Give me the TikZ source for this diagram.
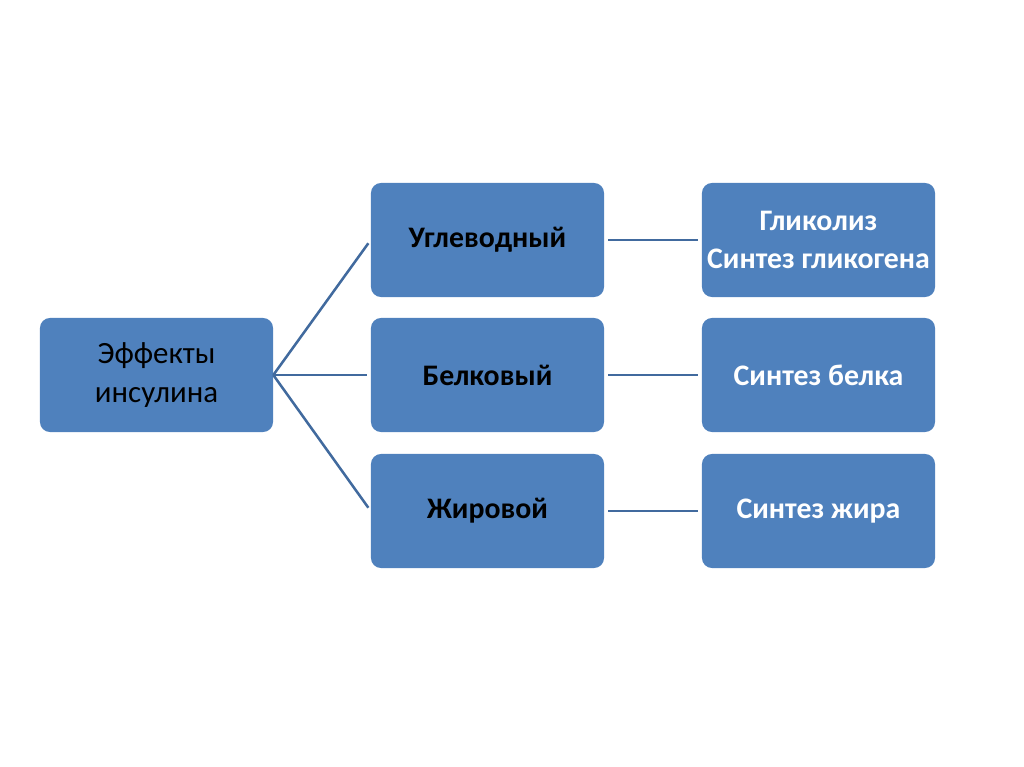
\documentclass[tikz,border=0pt]{standalone}
\usepackage{fontspec}
\setmainfont{Carlito}
\definecolor{boxblue}{HTML}{4F81BD}
\definecolor{lineblue}{HTML}{416A9E}

\begin{document}
\begin{tikzpicture}[x=0.025cm,y=-0.025cm,
  effbox/.style={rectangle, rounded corners=0.25cm, fill=boxblue, minimum width=5.825cm, minimum height=2.85cm, inner sep=0pt, align=center, font=\fontsize{22}{27.5}\selectfont},
  boldbox/.style={effbox, font=\fontsize{21.2}{26.5}\selectfont\bfseries},
  conn/.style={line width=1.8pt, lineblue}]
\useasboundingbox (0,0) rectangle (1024,767);
\node [effbox] (root) at (156.5,375) {Эффекты\\инсулина};
\node [boldbox] (ugl) at (487.5,240) {Углеводный};
\node [boldbox] (bel) at (487.5,375) {Белковый};
\node [boldbox] (zhir) at (487.5,511) {Жировой};
\node [boldbox, text=white] (glik) at (818.5,240) {Гликолиз\\Синтез гликогена};
\node [boldbox, text=white] (sbel) at (818.5,375) {Синтез белка};
\node [boldbox, text=white] (szhir) at (818.5,511) {Синтез жира};
\draw [conn, shorten >=0.1cm] (root.east) -- (ugl.west);
\draw [conn, shorten >=0.1cm] (root.east) -- (bel.west);
\draw [conn, shorten >=0.1cm] (root.east) -- (zhir.west);
\draw [conn, shorten <=0.1cm, shorten >=0.1cm] (ugl) -- (glik);
\draw [conn, shorten <=0.1cm, shorten >=0.1cm] (bel) -- (sbel);
\draw [conn, shorten <=0.1cm, shorten >=0.1cm] (zhir) -- (szhir);
\end{tikzpicture}
\end{document}
